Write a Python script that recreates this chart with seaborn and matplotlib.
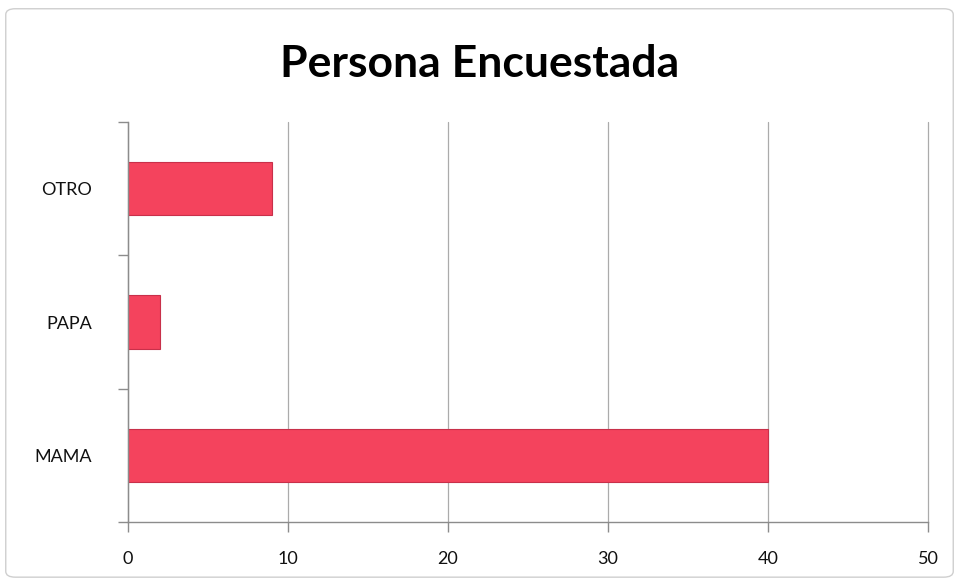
import pandas as pd
import seaborn as sns
import matplotlib.pyplot as plt
from matplotlib.patches import FancyBboxPatch

# datos de la encuesta
categorias = ["OTRO", "PAPA", "MAMA"]
valores = [9, 2, 40]
ticks_x = [0, 10, 20, 30, 40, 50]

df = pd.DataFrame({"persona": categorias, "cantidad": valores})

sns.set_style("white")
plt.rcParams['font.family'] = ['Lato', 'DejaVu Sans']

fig = plt.figure(figsize=(9.59, 5.83), dpi=100)
ax = fig.add_axes([0.1335, 0.1046, 0.8342, 0.6861])

sns.barplot(data=df, x="cantidad", y="persona", order=categorias, color="#F4435D",
            width=0.4, saturation=1, edgecolor="#C8304A", linewidth=0.8, ax=ax)

ax.set_xlim(0, 50)
ax.set_ylim(2.5, -0.5)
ax.set_xticks(ticks_x)
ax.set_xticklabels([str(t) for t in ticks_x], fontsize=13, color="#111111")
ax.tick_params(axis='y', labelsize=13, labelcolor="#111111", length=0, pad=26)
ax.set_yticks([-0.5, 0.5, 1.5, 2.5], minor=True)
ax.tick_params(axis='y', which='minor', left=True, length=7, color="#8C8C8C", width=1)
ax.tick_params(axis='x', bottom=True, length=7, color="#8C8C8C", width=1, pad=14)
ax.set_xlabel("")
ax.set_ylabel("")
ax.grid(axis='x', color="#ABABAB", linewidth=0.9)
for linea in ax.get_xgridlines():
    linea.set_clip_on(False)
ax.set_axisbelow(True)
for s in ["top", "right"]:
    ax.spines[s].set_visible(False)
for s in ["left", "bottom"]:
    ax.spines[s].set_color("#8C8C8C")
    ax.spines[s].set_linewidth(1)

fig.text(0.5, 0.89, "Persona Encuestada", ha="center", va="center",
         fontsize=32, fontweight="bold", color="black")

# marco exterior del grafico
marco = FancyBboxPatch((0.006, 0.01), 0.988, 0.975, boxstyle="round,pad=0,rounding_size=0.01",
                       transform=fig.transFigure, fill=False, edgecolor="#CFCFCF", linewidth=1)
fig.patches.append(marco)

fig.savefig("out.png", dpi=100)
